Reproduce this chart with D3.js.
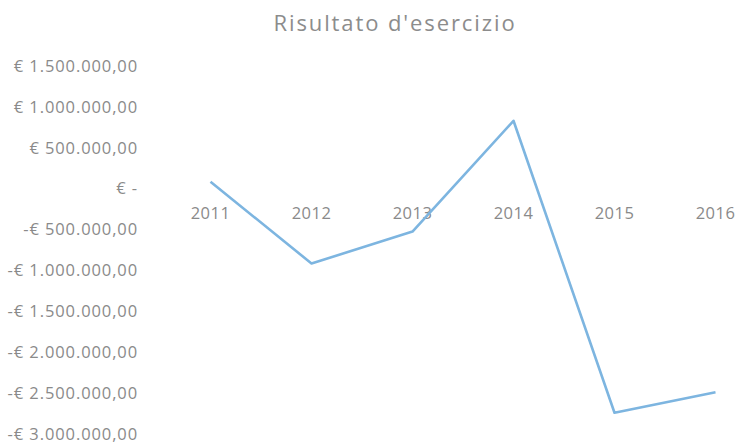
<!DOCTYPE html>
<html>
<head>
<meta charset="utf-8">
<script src="https://cdn.jsdelivr.net/npm/d3@7"></script>
<style>
  body { margin: 0; background: #fff; }
  text { font-family: "Open Sans", sans-serif; }
</style>
</head>
<body>
<svg id="chart"></svg>
<script>
const years = ['2011', '2012', '2013', '2014', '2015', '2016'];
const risultato = [85000, -915000, -525000, 830000, -2740000, -2490000];
const yTicks = [1500000, 1000000, 500000, 0, -500000, -1000000, -1500000, -2000000, -2500000, -3000000];

const width = 736,
  height = 445;

const svg = d3.select('#chart')
  .attr('width', width)
  .attr('height', height);

const x = d3.scaleBand()
  .domain(years)
  .range([160, 766]);

const y = d3.scaleLinear()
  .domain([-3000000, 1500000])
  .range([434, 66]);

const euro = (v) => {
  if (v === 0) return '€ -';
  const s = d3.format(',.2f')(Math.abs(v)).replace(/,/g, '#').replace('.', ',').replace(/#/g, '.');
  return (v < 0 ? '-' : '') + '€ ' + s;
};

svg.append('text')
  .attr('x', 395)
  .attr('y', 31)
  .attr('text-anchor', 'middle')
  .attr('fill', '#8c8c8c')
  .style('font-size', '22px')
  .style('letter-spacing', '1.9px')
  .text("Risultato d'esercizio");

const yAxis = svg.append('g')
  .attr('transform', 'translate(138,0)')
  .call(d3.axisLeft(y).tickValues(yTicks).tickFormat(euro).tickSize(0).tickPadding(0));
yAxis.select('.domain').remove();
yAxis.selectAll('text')
  .attr('fill', '#8a8a8a')
  .style('font-size', '16.5px')
  .style('letter-spacing', '0.9px');

const xAxis = svg.append('g')
  .attr('transform', 'translate(0,' + y(0) + ')')
  .call(d3.axisBottom(x).tickSize(0).tickPadding(19));
xAxis.select('.domain').remove();
xAxis.selectAll('text')
  .attr('fill', '#8a8a8a')
  .style('font-size', '16.5px')
  .style('letter-spacing', '0.5px');

const line = d3.line()
  .x((d, i) => x(years[i]) + x.bandwidth() / 2)
  .y((d) => y(d));

svg.append('path')
  .datum(risultato)
  .attr('fill', 'none')
  .attr('stroke', '#7db5e0')
  .attr('stroke-width', 2.6)
  .attr('stroke-linejoin', 'round')
  .attr('d', line);
</script>
</body>
</html>
